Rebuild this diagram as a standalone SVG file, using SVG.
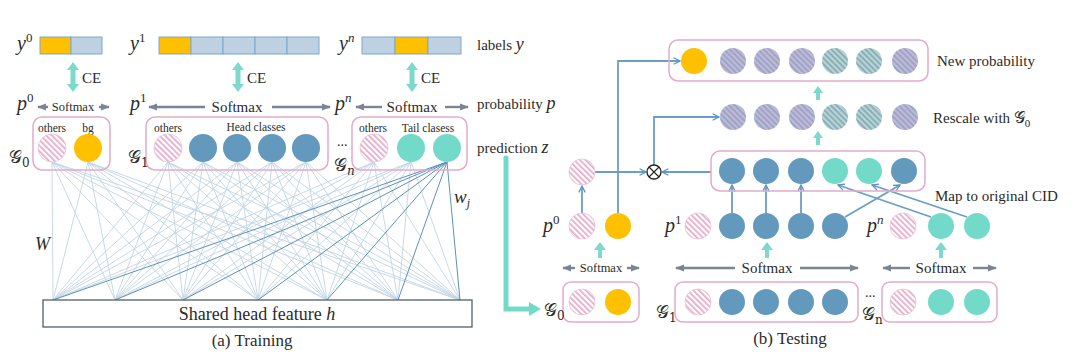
<svg xmlns="http://www.w3.org/2000/svg" width="1080" height="364" viewBox="0 0 1080 364">
<style>
.t{font-family:"Liberation Serif","Times New Roman",serif;fill:#2b2b2b}
.m{font-style:italic}
.g{font-family:"DejaVu Serif","DejaVu Sans","Liberation Serif",serif;font-style:normal}
.box{fill:none;stroke:#E3AACB;stroke-width:1.5}
.cell{fill:#BDD1E3;stroke:#7EA7C7;stroke-width:1}
.cor{fill:#FFC000;stroke:#7EA7C7;stroke-width:1}
.or{fill:#FFC000}
.bl{fill:#6399BD}
.te{fill:#73DACA}
.pk{fill:url(#hp);stroke:#EBC0D6;stroke-width:0.8}
.hu{fill:url(#hu)}
.ht{fill:url(#ht)}
.gr{stroke:#7A8494;stroke-width:2.4;fill:none;marker-end:url(#ag)}
.bw{stroke:#6A9EC4;stroke-width:1.8;fill:none}
.ba{marker-end:url(#ab)}
.tea{fill:#7DD9CB}
.wl{stroke:#C3D5E4;stroke-width:0.9;fill:none}
.wd{stroke:#5F90B8;stroke-width:1;fill:none}
</style>
<defs>
<pattern id="hp" width="4" height="4" patternUnits="userSpaceOnUse" patternTransform="rotate(-45)"><rect width="4" height="4" fill="#FFFFFF"/><rect width="1.7" height="4" fill="#E6A8C8"/></pattern>
<pattern id="hu" width="4" height="4" patternUnits="userSpaceOnUse" patternTransform="rotate(-45)"><rect width="4" height="4" fill="#C9B6D5"/><rect width="2" height="4" fill="#94A8C9"/></pattern>
<pattern id="ht" width="4" height="4" patternUnits="userSpaceOnUse" patternTransform="rotate(-45)"><rect width="4" height="4" fill="#A9DCD3"/><rect width="2" height="4" fill="#9AA7BB"/></pattern>
<marker id="ag" viewBox="0 0 10 10" refX="9" refY="5" markerWidth="9" markerHeight="9" markerUnits="userSpaceOnUse" orient="auto"><path d="M0,1 L10,5 L0,9 z" fill="#7A8494"/></marker>
<marker id="ab" viewBox="0 0 10 10" refX="9" refY="5" markerWidth="8" markerHeight="8" markerUnits="userSpaceOnUse" orient="auto"><path d="M1,1 L9,5 L1,9" fill="none" stroke="#5E93BB" stroke-width="1.6"/></marker>
</defs>
<rect width="1080" height="364" fill="#FFFFFF"/>

<g id="connectors">
<path class="wl" d="M52 162L53 300M52 162L115 300M52 162L183 300M52 162L258 300M52 162L327 300M52 162L398 300M52 162L460 300
M88 162L53 300M88 162L115 300M88 162L183 300M88 162L258 300M88 162L327 300M88 162L398 300M88 162L460 300
M168 162L53 300M168 162L115 300M168 162L183 300M168 162L258 300M168 162L327 300M168 162L398 300M168 162L460 300
M203 162L53 300M203 162L115 300M203 162L183 300M203 162L258 300M203 162L327 300M203 162L398 300M203 162L460 300
M237 162L53 300M237 162L115 300M237 162L183 300M237 162L258 300M237 162L327 300M237 162L398 300M237 162L460 300
M272 162L53 300M272 162L115 300M272 162L183 300M272 162L258 300M272 162L327 300M272 162L398 300M272 162L460 300
M306 162L53 300M306 162L115 300M306 162L183 300M306 162L258 300M306 162L327 300M306 162L398 300M306 162L460 300
M374 162L53 300M374 162L115 300M374 162L183 300M374 162L258 300M374 162L327 300M374 162L398 300M374 162L460 300
M411 162L53 300M411 162L115 300M411 162L183 300M411 162L258 300M411 162L327 300M411 162L398 300M411 162L460 300"/>
<path class="wd" d="M447 162L53 300M447 162L115 300M447 162L183 300M447 162L258 300M447 162L327 300M447 162L398 300M447 162L460 300"/>
<polygon class="tea" points="73,62 79,70 75.5,70 75.5,84 79,84 73,92 67,84 70.5,84 70.5,70 67,70"/>
<polygon class="tea" points="238,62 244,70 240.5,70 240.5,84 244,84 238,92 232,84 235.5,84 235.5,70 232,70"/>
<polygon class="tea" points="412,62 418,70 414.5,70 414.5,84 418,84 412,92 406,84 409.5,84 409.5,70 406,70"/>
<line class="gr" x1="48" y1="107" x2="38" y2="107"/>
<line class="gr" x1="99" y1="107" x2="109" y2="107"/>
<line class="gr" x1="205" y1="107" x2="149" y2="107"/>
<line class="gr" x1="272" y1="107" x2="330" y2="107"/>
<line class="gr" x1="382" y1="107" x2="356" y2="107"/>
<line class="gr" x1="445" y1="107" x2="468" y2="107"/>
<path d="M506,158 V309 H530" stroke="#74D9C9" stroke-width="5" fill="none" stroke-linecap="round"/>
<polygon points="529,302 541,309 529,316" fill="#74D9C9"/>
<path class="bw ba" d="M618,213 V61 H680"/>
<line class="bw ba" x1="582" y1="213" x2="582" y2="186"/>
<line class="bw ba" x1="595" y1="172" x2="646" y2="172"/>
<line class="bw ba" x1="711" y1="172" x2="662" y2="172"/>
<path class="bw ba" d="M654,165 V117 H719"/>
<line class="bw ba" x1="732" y1="213" x2="732" y2="185"/>
<line class="bw ba" x1="766" y1="213" x2="766" y2="185"/>
<line class="bw ba" x1="801" y1="213" x2="801" y2="185"/>
<line class="bw ba" x1="845" y1="217" x2="900" y2="185" stroke-width="1.5"/>
<line class="bw ba" x1="931" y1="217" x2="838" y2="185" stroke-width="1.5"/>
<line class="bw ba" x1="967" y1="217" x2="872" y2="185" stroke-width="1.5"/>
<polygon class="tea" points="816,100 816,93 813,93 818,86 823,93 820,93 820,100"/>
<polygon class="tea" points="816,145 816,138 813,138 818,131 823,138 820,138 820,145"/>
<polygon class="tea" points="598,258 598,250 594,250 600,242 606,250 602,250 602,258"/>
<polygon class="tea" points="765,258 765,250 761,250 767,242 773,250 769,250 769,258"/>
<polygon class="tea" points="939,258 939,250 935,250 941,242 947,250 943,250 943,258"/>
<line class="gr" x1="575" y1="268" x2="563" y2="268"/>
<line class="gr" x1="627" y1="268" x2="639" y2="268"/>
<line class="gr" x1="735" y1="268" x2="676" y2="268"/>
<line class="gr" x1="800" y1="268" x2="858" y2="268"/>
<line class="gr" x1="910" y1="268" x2="883" y2="268"/>
<line class="gr" x1="973" y1="268" x2="996" y2="268"/>
</g>

<g id="labels-y0">
<text class="t m" x="17" y="50" font-size="20">y<tspan font-size="13" dy="-8" font-style="normal">0</tspan></text>
<rect class="cor" x="40" y="37" width="31" height="17"/>
<rect class="cell" x="71" y="37" width="31" height="17"/>
</g>
<g id="labels-y1">
<text class="t m" x="130" y="50" font-size="20">y<tspan font-size="13" dy="-8" font-style="normal">1</tspan></text>
<rect class="cor" x="159" y="37" width="32" height="17"/>
<rect class="cell" x="191" y="37" width="32" height="17"/>
<rect class="cell" x="223" y="37" width="32" height="17"/>
<rect class="cell" x="255" y="37" width="32" height="17"/>
<rect class="cell" x="287" y="37" width="32" height="17"/>
</g>
<g id="labels-yn">
<text class="t m" x="339" y="50" font-size="20">y<tspan font-size="13" dy="-8">n</tspan></text>
<rect class="cell" x="362" y="37" width="33" height="17"/>
<rect class="cor" x="395" y="37" width="33" height="17"/>
<rect class="cell" x="428" y="37" width="33" height="17"/>
</g>
<g id="ce-labels">
<text class="t" x="82" y="83" font-size="15">CE</text>
<text class="t" x="247" y="83" font-size="15">CE</text>
<text class="t" x="421" y="83" font-size="15">CE</text>
</g>
<g id="softmax-train">
<text class="t m" x="17" y="110" font-size="20">p<tspan font-size="13" dy="-8" font-style="normal">0</tspan></text>
<text class="t" x="73" y="111" font-size="12.5" text-anchor="middle">Softmax</text>
<text class="t m" x="130" y="110" font-size="20">p<tspan font-size="13" dy="-8" font-style="normal">1</tspan></text>
<text class="t" x="237" y="112" font-size="15" text-anchor="middle">Softmax</text>
<text class="t m" x="335" y="110" font-size="20">p<tspan font-size="13" dy="-8">n</tspan></text>
<text class="t" x="412" y="112" font-size="15" text-anchor="middle">Softmax</text>
</g>
<g id="side-labels">
<text class="t" x="477" y="50" font-size="15">labels <tspan class="m" font-size="18">y</tspan></text>
<text class="t" x="477" y="109" font-size="15">probability <tspan class="m" font-size="18">p</tspan></text>
<text class="t" x="477" y="153" font-size="15">prediction <tspan class="m" font-size="18">z</tspan></text>
</g>
<g id="group-g0">
<rect class="box" x="33" y="117" width="77" height="53" rx="9"/>
<text class="t" x="52" y="132" font-size="11.5" text-anchor="middle">others</text>
<text class="t" x="88" y="132" font-size="11.5" text-anchor="middle">bg</text>
<circle class="pk" cx="52" cy="148" r="14"/>
<circle class="or" cx="88" cy="148" r="14"/>
<text class="t g" x="9" y="163" font-size="18">𝒢<tspan font-size="12" dy="4">0</tspan></text>
</g>
<g id="group-g1">
<rect class="box" x="146" y="117" width="182" height="53" rx="9"/>
<text class="t" x="168" y="132" font-size="11.5" text-anchor="middle">others</text>
<text class="t" x="256" y="131" font-size="11.5" text-anchor="middle">Head classes</text>
<circle class="pk" cx="168" cy="148" r="14"/>
<circle class="bl" cx="203" cy="148" r="14"/>
<circle class="bl" cx="237" cy="148" r="14"/>
<circle class="bl" cx="272" cy="148" r="14"/>
<circle class="bl" cx="306" cy="148" r="14"/>
<text class="t g" x="128" y="163" font-size="18">𝒢<tspan font-size="12" dy="4">1</tspan></text>
</g>
<g id="group-gn">
<rect class="box" x="352" y="117" width="115" height="53" rx="9"/>
<text class="t" x="373" y="132" font-size="11.5" text-anchor="middle">others</text>
<text class="t" x="428" y="132" font-size="11.5" text-anchor="middle">Tail clasess</text>
<circle class="pk" cx="374" cy="148" r="14"/>
<circle class="te" cx="411" cy="148" r="14"/>
<circle class="te" cx="447" cy="148" r="14"/>
<text class="t" x="337" y="146" font-size="14">...</text>
<text class="t g" x="334" y="171" font-size="18">𝒢<tspan font-size="12" dy="4" class="m">n</tspan></text>
</g>
<g id="weights">
<text class="t m" x="35" y="250" font-size="18">W</text>
<text class="t m" x="454" y="203" font-size="19">w<tspan font-size="12" dy="4">j</tspan></text>
</g>
<g id="shared-feature">
<rect x="43" y="300" width="429" height="27" fill="#FFFFFF" stroke="#555E6B" stroke-width="1.3"/>
<text class="t" x="257" y="320" font-size="18" text-anchor="middle">Shared head feature <tspan class="m">h</tspan></text>
</g>
<text class="t" x="252" y="346" font-size="17" text-anchor="middle">(a) Training</text>

<g id="new-probability">
<rect class="box" x="669" y="40" width="259" height="41" rx="9"/>
<circle class="or" cx="694" cy="61" r="13"/>
<circle class="hu" cx="733" cy="61" r="13"/>
<circle class="hu" cx="767" cy="61" r="13"/>
<circle class="hu" cx="802" cy="61" r="13"/>
<circle class="ht" cx="835" cy="61" r="13"/>
<circle class="ht" cx="869" cy="61" r="13"/>
<circle class="hu" cx="905" cy="61" r="13"/>
<text class="t" x="937" y="66" font-size="15">New probability</text>
</g>
<g id="rescaled">
<circle class="hu" cx="733" cy="117" r="13"/>
<circle class="hu" cx="767" cy="117" r="13"/>
<circle class="hu" cx="802" cy="117" r="13"/>
<circle class="ht" cx="835" cy="117" r="13"/>
<circle class="ht" cx="869" cy="117" r="13"/>
<circle class="hu" cx="905" cy="117" r="13"/>
<text class="t" x="933" y="123" font-size="15">Rescale with <tspan class="g" font-size="16">𝒢</tspan><tspan font-size="11" dy="4">0</tspan></text>
</g>
<g id="mapped">
<rect class="box" x="711" y="151" width="214" height="40" rx="9"/>
<circle class="bl" cx="732" cy="171" r="13"/>
<circle class="bl" cx="766" cy="171" r="13"/>
<circle class="bl" cx="801" cy="171" r="13"/>
<circle class="te" cx="835" cy="171" r="13"/>
<circle class="te" cx="869" cy="171" r="13"/>
<circle class="bl" cx="904" cy="171" r="13"/>
<text class="t" x="935" y="201" font-size="15">Map to original CID</text>
</g>
<g id="multiply">
<circle cx="654" cy="172" r="7" fill="#FFFFFF" stroke="#222222" stroke-width="1.3"/>
<path d="M649,167 L659,177 M659,167 L649,177" stroke="#222222" stroke-width="1.1"/>
</g>
<g id="bg-prob">
<circle class="pk" cx="582" cy="172" r="13"/>
</g>
<g id="p0-test">
<text class="t m" x="543" y="232" font-size="20">p<tspan font-size="13" dy="-8" font-style="normal">0</tspan></text>
<circle class="pk" cx="582" cy="226" r="13"/>
<circle class="or" cx="618" cy="226" r="13"/>
<text class="t" x="601" y="272" font-size="12.5" text-anchor="middle">Softmax</text>
</g>
<g id="p1-test">
<text class="t m" x="665" y="232" font-size="20">p<tspan font-size="13" dy="-8" font-style="normal">1</tspan></text>
<circle class="pk" cx="698" cy="226" r="13"/>
<circle class="bl" cx="732" cy="226" r="13"/>
<circle class="bl" cx="766" cy="226" r="13"/>
<circle class="bl" cx="801" cy="226" r="13"/>
<circle class="bl" cx="835" cy="226" r="13"/>
<text class="t" x="767" y="273" font-size="15" text-anchor="middle">Softmax</text>
</g>
<g id="pn-test">
<text class="t m" x="867" y="232" font-size="20">p<tspan font-size="13" dy="-8">n</tspan></text>
<circle class="pk" cx="903" cy="226" r="13"/>
<circle class="te" cx="941" cy="226" r="13"/>
<circle class="te" cx="977" cy="226" r="13"/>
<text class="t" x="941" y="273" font-size="15" text-anchor="middle">Softmax</text>
</g>
<g id="g0-test">
<rect class="box" x="563" y="282" width="76" height="40" rx="8"/>
<circle class="pk" cx="582" cy="302" r="13"/>
<circle class="or" cx="618" cy="302" r="13"/>
<text class="t g" x="544" y="316" font-size="18">𝒢<tspan font-size="12" dy="4">0</tspan></text>
</g>
<g id="g1-test">
<rect class="box" x="675" y="282" width="183" height="40" rx="8"/>
<circle class="pk" cx="698" cy="302" r="13"/>
<circle class="bl" cx="732" cy="302" r="13"/>
<circle class="bl" cx="766" cy="302" r="13"/>
<circle class="bl" cx="801" cy="302" r="13"/>
<circle class="bl" cx="835" cy="302" r="13"/>
<text class="t g" x="656" y="318" font-size="18">𝒢<tspan font-size="12" dy="4">1</tspan></text>
</g>
<g id="gn-test">
<rect class="box" x="882" y="282" width="115" height="40" rx="8"/>
<circle class="pk" cx="903" cy="302" r="13"/>
<circle class="te" cx="941" cy="302" r="13"/>
<circle class="te" cx="977" cy="302" r="13"/>
<text class="t" x="865" y="297" font-size="14">...</text>
<text class="t g" x="862" y="320" font-size="18">𝒢<tspan font-size="12" dy="4">n</tspan></text>
</g>
<text class="t" x="790" y="344" font-size="17" text-anchor="middle">(b) Testing</text>
</svg>
